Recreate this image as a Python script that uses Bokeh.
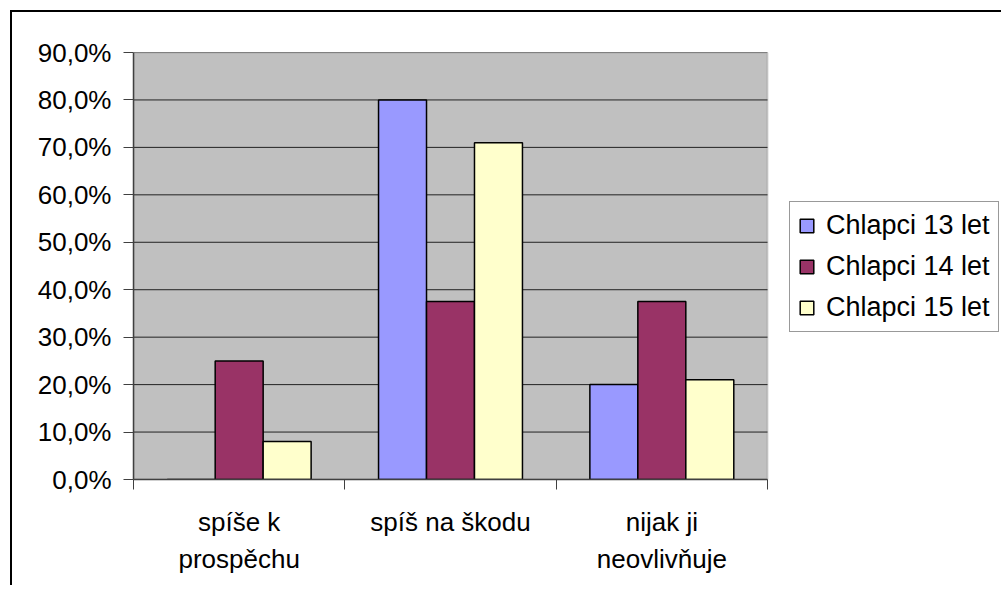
from bokeh.plotting import figure
from bokeh.models import (Range1d, FixedTicker, CustomJSTickFormatter, ColumnDataSource,
                          BoxAnnotation)
from bokeh.transform import dodge
from bokeh.embed import file_html
from bokeh.resources import INLINE

# ---- data ----
categories = ["spíše k\nprospěchu", "spíš na škodu", "nijak ji\nneovlivňuje"]
series_names = ["Chlapci 13 let", "Chlapci 14 let", "Chlapci 15 let"]
chlapci_13 = [0.0, 0.80, 0.20]
chlapci_14 = [0.25, 0.375, 0.375]
chlapci_15 = [0.08, 0.71, 0.21]
y_ticks = [0.0, 0.1, 0.2, 0.3, 0.4, 0.5, 0.6, 0.7, 0.8, 0.9]

colors = ["#9999FF", "#993366", "#FFFFCC"]
FONT = "Liberation Sans"

# canvas offset in page (css margin + border)
OX, OY = 12, 12
W, H = 991, 575
# target plot area in page coordinates
FL, FT, FR, FB = 133, 52, 767, 479
PAGE_R = OX + W

ncat = len(categories)
centers = [i + 0.5 for i in range(ncat)]
bounds = [float(i) for i in range(ncat + 1)]
x_end = ncat * (PAGE_R - FL) / (FR - FL)

src = ColumnDataSource(dict(x=centers, s13=chlapci_13, s14=chlapci_14, s15=chlapci_15))

p = figure(width=W, height=H, output_backend="svg", toolbar_location=None,
           x_range=Range1d(0, x_end), y_range=Range1d(0, y_ticks[-1]),
           min_border_left=FL - OX, min_border_right=0,
           min_border_top=FT - OY, min_border_bottom=OY + H - FB)
p.margin = (10, 0, 0, 10)
p.styles = {"border-left": "2px solid black", "border-top": "2px solid black"}

p.background_fill_color = "white"
p.border_fill_color = "white"
p.outline_line_color = None

# grey plot area
area = BoxAnnotation(left=0, right=ncat, bottom=0, top=y_ticks[-1],
                     fill_color="#C0C0C0", fill_alpha=1.0,
                     line_color="#808080", line_width=2, level="underlay")
p.add_layout(area)

# horizontal gridlines only across the plot area
p.segment(x0=[0] * len(y_ticks), x1=[ncat] * len(y_ticks), y0=y_ticks, y1=y_ticks,
          line_color="#222222", line_width=1)

bw = 0.227
offsets = [-bw, 0.0, bw]
for col, name, c, off in zip(["s13", "s14", "s15"], series_names, colors, offsets):
    p.vbar(x=dodge("x", off, range=p.x_range), top=col, width=bw, source=src,
           fill_color=c, line_color="black", line_width=1.5, legend_label=name)

# y axis
p.yaxis.ticker = FixedTicker(ticks=y_ticks)
p.yaxis.formatter = CustomJSTickFormatter(code="return (tick*100).toFixed(1).replace('.', ',') + '%';")
p.yaxis.major_label_text_font = FONT
p.yaxis.major_label_text_font_size = "26px"
p.yaxis.major_label_text_color = "black"
p.yaxis.major_tick_out = 10
p.yaxis.major_tick_in = 0
p.yaxis.minor_tick_out = 0
p.yaxis.minor_tick_in = 0
p.yaxis.axis_line_color = "#404040"
p.yaxis.axis_line_width = 1.5
p.yaxis.major_tick_line_color = "#404040"
p.yaxis.major_label_standoff = 12

# x axis: labels at category centres, ticks at boundaries
p.xaxis.bounds = (0, ncat)
p.xaxis.ticker = FixedTicker(ticks=centers, minor_ticks=bounds)
p.xaxis.major_label_overrides = {c: lab for c, lab in zip(centers, categories)}
p.xaxis.major_label_text_font = FONT
p.xaxis.major_label_text_font_size = "26px"
p.xaxis.major_label_text_color = "black"
p.xaxis.major_label_text_line_height = 1.25
p.xaxis.major_tick_out = 0
p.xaxis.major_tick_in = 0
p.xaxis.minor_tick_out = 10
p.xaxis.minor_tick_in = 0
p.xaxis.minor_tick_line_color = "#404040"
p.xaxis.axis_line_color = "#404040"
p.xaxis.axis_line_width = 1.5
p.xaxis.major_label_standoff = 17

p.xgrid.grid_line_color = None
p.ygrid.grid_line_color = None

# legend
lg = p.legend[0]
lg.location = (656, 147)
lg.label_text_font = FONT
lg.label_text_font_size = "27px"
lg.label_text_color = "black"
lg.glyph_width = 17
lg.glyph_height = 17
lg.label_height = 30
lg.spacing = 10
lg.padding = 8
lg.margin = 0
lg.label_standoff = 11
lg.border_line_color = "#333333"
lg.border_line_width = 1
lg.background_fill_color = "white"
lg.background_fill_alpha = 1.0

open("out.html", "w").write(file_html(p, INLINE))
